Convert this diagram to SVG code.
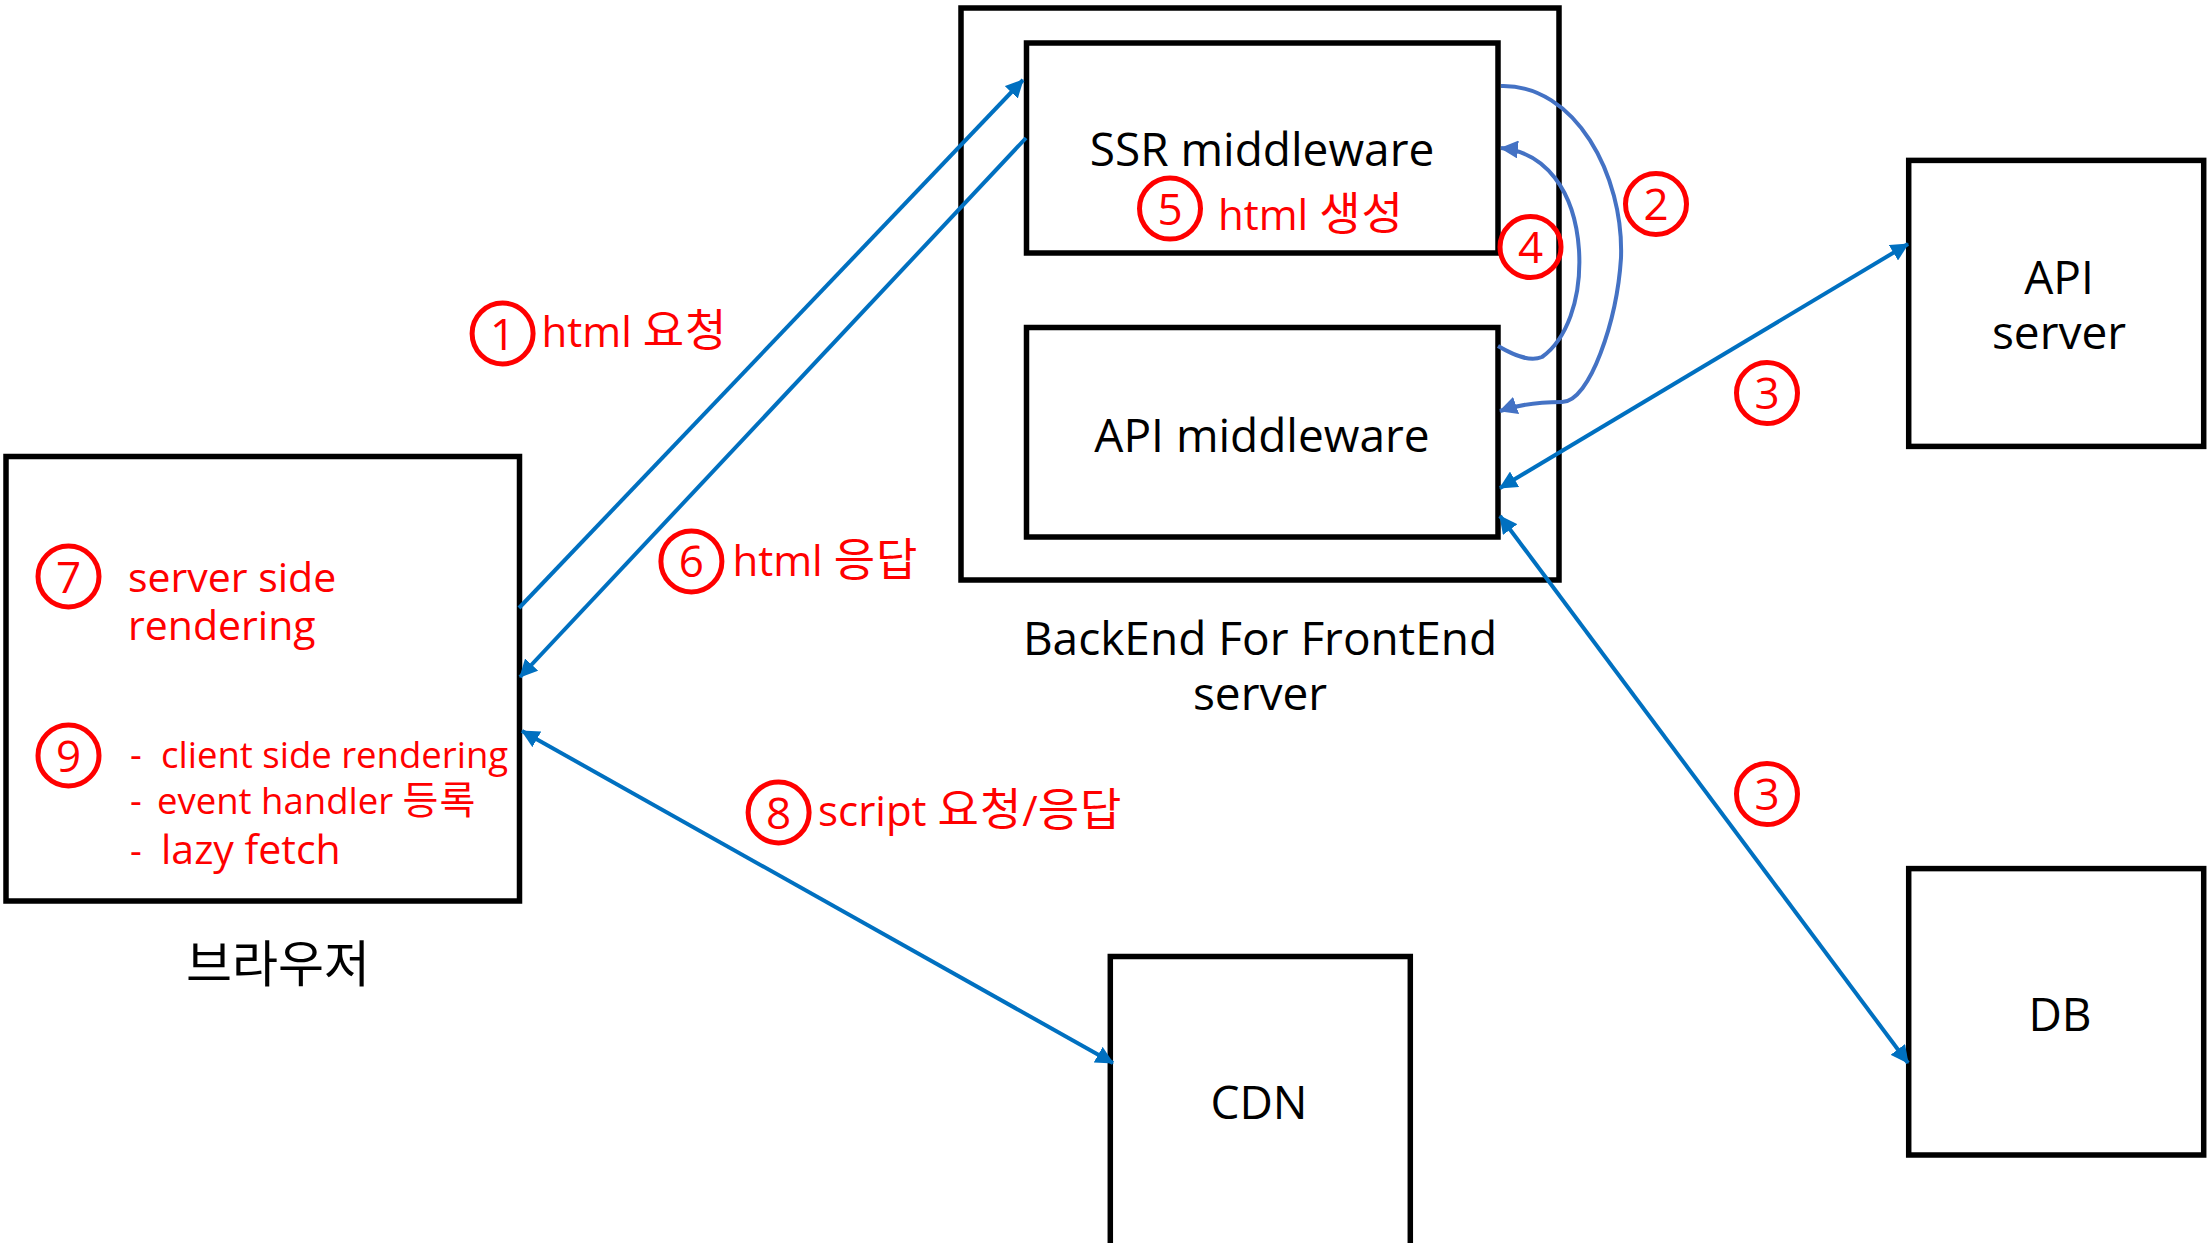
<svg xmlns="http://www.w3.org/2000/svg" width="2207" height="1243" viewBox="0 0 2207 1243">
  <style>
    .box { fill: #ffffff; stroke: #000000; stroke-width: 5.5; }
    .frame { fill: none; stroke: #000000; stroke-width: 5.5; }
    .lbl { font-family: 'Open Sans', 'Noto Sans CJK KR', sans-serif; font-size: 46px; fill: #000000; text-anchor: middle; }
    .note { font-family: 'Open Sans', 'Noto Sans CJK KR', sans-serif; font-size: 42px; fill: #ff0000; }
    .list { font-family: 'Open Sans', 'Noto Sans CJK KR', sans-serif; font-size: 36.5px; fill: #ff0000; }
    .ko { font-family: 'Noto Sans CJK KR', sans-serif; font-size: 45px; letter-spacing: 1px; }
    .num circle { fill: none; stroke: #ff0000; stroke-width: 5; }
    .num text { font-family: 'Open Sans', sans-serif; font-size: 44px; fill: #ff0000; text-anchor: middle; }
    .link { fill: none; stroke: #0070c0; stroke-width: 4; }
    .loop { fill: none; stroke: #4472c4; stroke-width: 4; }
  </style>
  <defs>
    <marker id="tipBlue" viewBox="0 0 18 18" markerUnits="userSpaceOnUse" markerWidth="18" markerHeight="18" refX="17" refY="9" orient="auto-start-reverse">
      <path d="M0,0 L18,9 L0,18 z" fill="#0070c0"/>
    </marker>
    <marker id="tipLoop" viewBox="0 0 18 18" markerUnits="userSpaceOnUse" markerWidth="18" markerHeight="18" refX="17" refY="9" orient="auto">
      <path d="M0,0 L18,9 L0,18 z" fill="#4472c4"/>
    </marker>
  </defs>

  <!-- BFF server frame -->
  <g id="bff">
    <rect class="frame" x="961" y="8" width="598" height="572"/>
    <text class="lbl" x="1260" y="655">BackEnd For FrontEnd</text>
    <text class="lbl" x="1260" y="710">server</text>
  </g>

  <g id="ssr-middleware">
    <rect class="box" x="1026.5" y="43" width="471.5" height="210"/>
    <text class="lbl" x="1262" y="166">SSR middleware</text>
    <text class="note" x="1218" y="230">html <tspan class="ko">생성</tspan></text>
  </g>

  <g id="api-middleware">
    <rect class="box" x="1026.5" y="327.5" width="471.5" height="209.5"/>
    <text class="lbl" x="1262" y="452">API middleware</text>
  </g>

  <g id="browser">
    <rect class="box" x="6" y="456.5" width="513.5" height="444.5"/>
    <text class="note" x="128" y="591.5" style="font-size:41px">server side</text>
    <text class="note" x="128" y="640" style="font-size:41px">rendering</text>
    <text class="list" y="768"><tspan x="130">-</tspan><tspan x="161">client side rendering</tspan></text>
    <text class="list" y="814"><tspan x="130">-</tspan><tspan x="157">event handler </tspan><tspan class="ko" style="font-size:39px">등록</tspan></text>
    <text class="list" y="864"><tspan x="130">-</tspan><tspan x="161" style="font-size:41px">lazy fetch</tspan></text>
    <text class="lbl" x="278" y="982" style="font-size:50px">브라우저</text>
  </g>

  <g id="api-server">
    <rect class="box" x="1908.7" y="160.4" width="295" height="286"/>
    <text class="lbl" x="2059" y="294">API</text>
    <text class="lbl" x="2059" y="349">server</text>
  </g>

  <g id="db">
    <rect class="box" x="1908.7" y="868.6" width="295" height="286.4"/>
    <text class="lbl" x="2060" y="1031">DB</text>
  </g>

  <g id="cdn">
    <rect class="box" x="1110.3" y="956.5" width="300" height="300"/>
    <text class="lbl" x="1259" y="1119">CDN</text>
  </g>

  <!-- connectors -->
  <g id="connectors">
    <line class="link" x1="519" y1="608" x2="1023" y2="80" marker-end="url(#tipBlue)"/>
    <line class="link" x1="1026" y1="138" x2="520" y2="677" marker-end="url(#tipBlue)"/>
    <line class="link" x1="522" y1="731" x2="1113" y2="1063" marker-start="url(#tipBlue)" marker-end="url(#tipBlue)"/>
    <line class="link" x1="1500" y1="488" x2="1908" y2="244" marker-start="url(#tipBlue)" marker-end="url(#tipBlue)"/>
    <line class="link" x1="1500" y1="516" x2="1908" y2="1063" marker-start="url(#tipBlue)" marker-end="url(#tipBlue)"/>
    <path class="loop" d="M1501,86 C1575,84 1624,175 1621,258 C1617,320 1590,402 1562,402 C1540,402 1520,404 1500,411" marker-end="url(#tipLoop)"/>
    <path class="loop" d="M1498,346 C1515,356 1530,362 1542,357 C1566,340 1582,300 1579,250 C1575,190 1545,152 1501,148" marker-end="url(#tipLoop)"/>
  </g>

  <!-- step numbers -->
  <g id="steps" class="num">
    <g><circle cx="502.6" cy="333.5" r="30.5"/><text x="502.6" y="349.5">1</text></g>
    <g><circle cx="1656" cy="204" r="30.5"/><text x="1656" y="220">2</text></g>
    <g><circle cx="1767" cy="393" r="30.5"/><text x="1767" y="409">3</text></g>
    <g><circle cx="1767" cy="794" r="30.5"/><text x="1767" y="810">3</text></g>
    <g><circle cx="1530.5" cy="247" r="30.5"/><text x="1530.5" y="263">4</text></g>
    <g><circle cx="1170" cy="208.6" r="30.5"/><text x="1170" y="224.6">5</text></g>
    <g><circle cx="691.4" cy="561.4" r="30.5"/><text x="691.4" y="577.4">6</text></g>
    <g><circle cx="68.5" cy="576.5" r="30.5"/><text x="68.5" y="592.5">7</text></g>
    <g><circle cx="778.6" cy="812.5" r="30.5"/><text x="778.6" y="828.5">8</text></g>
    <g><circle cx="68.5" cy="755.5" r="30.5"/><text x="68.5" y="771.5">9</text></g>
  </g>

  <text class="note" x="541.6" y="347">html <tspan class="ko">요청</tspan></text>
  <text class="note" x="732.5" y="576">html <tspan class="ko">응답</tspan></text>
  <text class="note" x="818" y="826">script <tspan class="ko">요청</tspan>/<tspan class="ko">응답</tspan></text>
</svg>
